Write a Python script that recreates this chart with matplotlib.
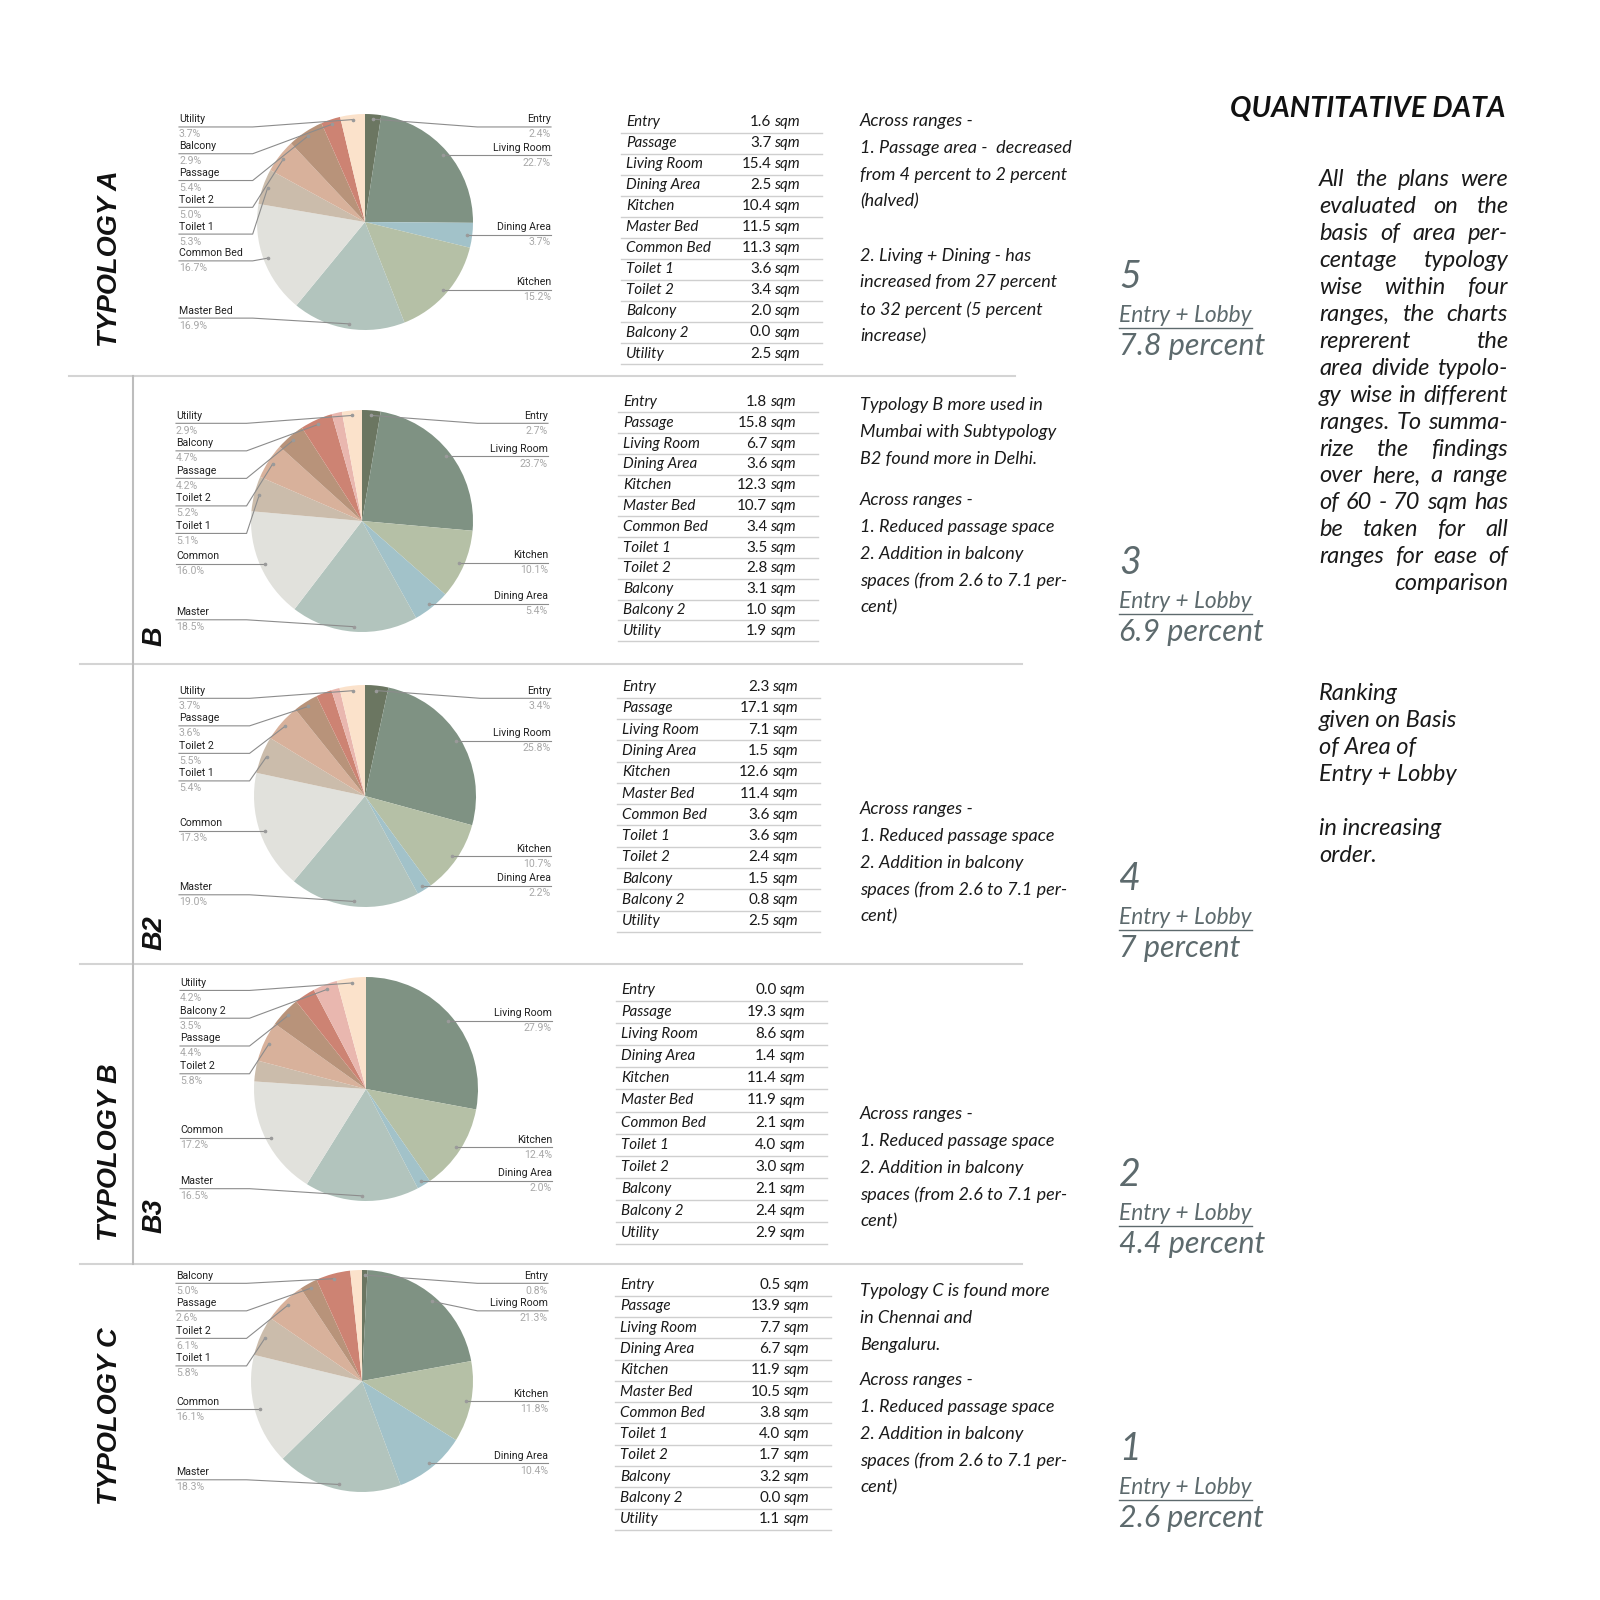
import matplotlib
matplotlib.use('Agg')
import matplotlib.pyplot as plt
import numpy as np

# ------------------------------------------------------------------ DATA
pie_A_rooms = ['Entry', 'Living Room', 'Dining Area', 'Kitchen', 'Master Bed', 'Common Bed',
               'Toilet 1', 'Toilet 2', 'Passage', 'Balcony', 'Utility']
pie_A_pct = [2.4, 22.7, 3.7, 15.2, 16.9, 16.7, 5.3, 5.0, 5.4, 2.9, 3.7]
pie_A_labels = ['Entry', 'Living Room', 'Dining Area', 'Kitchen', 'Master Bed', 'Common Bed',
                'Toilet 1', 'Toilet 2', 'Passage', 'Balcony', 'Utility']

pie_B_rooms = ['Entry', 'Living Room', 'Kitchen', 'Dining Area', 'Master Bed', 'Common Bed',
               'Toilet 1', 'Toilet 2', 'Passage', 'Balcony', 'Balcony 2', 'Utility']
pie_B_pct = [2.7, 23.7, 10.1, 5.4, 18.5, 16.0, 5.1, 5.2, 4.2, 4.7, 1.5, 2.9]
pie_B_labels = ['Entry', 'Living Room', 'Kitchen', 'Dining Area', 'Master', 'Common',
                'Toilet 1', 'Toilet 2', 'Passage', 'Balcony', None, 'Utility']

pie_B2_rooms = ['Entry', 'Living Room', 'Kitchen', 'Dining Area', 'Master Bed', 'Common Bed',
                'Toilet 1', 'Toilet 2', 'Passage', 'Balcony', 'Balcony 2', 'Utility']
pie_B2_pct = [3.4, 25.9, 10.7, 2.2, 19.0, 17.3, 5.4, 5.5, 3.6, 2.3, 1.2, 3.7]
pie_B2_labels = ['Entry', 'Living Room', 'Kitchen', 'Dining Area', 'Master', 'Common',
                 'Toilet 1', 'Toilet 2', 'Passage', None, None, 'Utility']

pie_B3_rooms = ['Living Room', 'Kitchen', 'Dining Area', 'Master Bed', 'Common Bed',
                'Toilet 1', 'Toilet 2', 'Passage', 'Balcony', 'Balcony 2', 'Utility']
pie_B3_pct = [27.9, 12.4, 2.0, 16.5, 17.2, 3.0, 5.8, 4.4, 3.0, 3.5, 4.2]
pie_B3_labels = ['Living Room', 'Kitchen', 'Dining Area', 'Master', 'Common',
                 None, 'Toilet 2', 'Passage', None, 'Balcony 2', 'Utility']

pie_C_rooms = ['Entry', 'Living Room', 'Kitchen', 'Dining Area', 'Master Bed', 'Common Bed',
               'Toilet 1', 'Toilet 2', 'Passage', 'Balcony', 'Utility']
pie_C_pct = [0.8, 21.3, 11.8, 10.4, 18.3, 16.1, 5.8, 6.1, 2.6, 5.0, 1.7]
pie_C_labels = ['Entry', 'Living Room', 'Kitchen', 'Dining Area', 'Master', 'Common',
                'Toilet 1', 'Toilet 2', 'Passage', 'Balcony', None]

table_rooms = ['Entry', 'Passage', 'Living Room', 'Dining Area', 'Kitchen', 'Master Bed',
               'Common Bed', 'Toilet 1', 'Toilet 2', 'Balcony', 'Balcony 2', 'Utility']
sqm_A = [1.6, 3.7, 15.4, 2.5, 10.4, 11.5, 11.3, 3.6, 3.4, 2.0, 0.0, 2.5]
sqm_B = [1.8, 15.8, 6.7, 3.6, 12.3, 10.7, 3.4, 3.5, 2.8, 3.1, 1.0, 1.9]
sqm_B2 = [2.3, 17.1, 7.1, 1.5, 12.6, 11.4, 3.6, 3.6, 2.4, 1.5, 0.8, 2.5]
sqm_B3 = [0.0, 19.3, 8.6, 1.4, 11.4, 11.9, 2.1, 4.0, 3.0, 2.1, 2.4, 2.9]
sqm_C = [0.5, 13.9, 7.7, 6.7, 11.9, 10.5, 3.8, 4.0, 1.7, 3.2, 0.0, 1.1]

rank_numbers = ['5', '3', '4', '2', '1']
entry_lobby_pct = ['7.8', '6.9', '7', '4.4', '2.6']

section_titles = ['TYPOLOGY A', 'B', 'B2', 'TYPOLOGY B', 'B3', 'TYPOLOGY C']

notes_A = [["Across ranges -", "1. Passage area -  decreased", "from 4 percent to 2 percent", "(halved)"],
           ["2. Living + Dining - has", "increased from 27 percent", "to 32 percent (5 percent", "increase)"]]
notes_B = [["Typology B more used in", "Mumbai with Subtypology", "B2 found more in Delhi."],
           ["Across ranges -", "1. Reduced passage space", "2. Addition in balcony",
            "spaces (from 2.6 to 7.1 per-", "cent)"]]
notes_B2 = [["Across ranges -", "1. Reduced passage space", "2. Addition in balcony",
             "spaces (from 2.6 to 7.1 per-", "cent)"]]
notes_B3 = [["Across ranges -", "1. Reduced passage space", "2. Addition in balcony",
             "spaces (from 2.6 to 7.1 per-", "cent)"]]
notes_C = [["Typology C is found more", "in Chennai and", "Bengaluru."],
           ["Across ranges -", "1. Reduced passage space", "2. Addition in balcony",
            "spaces (from 2.6 to 7.1 per-", "cent)"]]

summary_lines = ["All the plans were", "evaluated on the", "basis of area per-", "centage typology",
                 "wise within four", "ranges, the charts", "reprerent the", "area divide typolo-",
                 "gy wise in different", "ranges. To summa-", "rize the findings", "over here, a range",
                 "of 60 - 70 sqm has", "be taken for all", "ranges for ease of", "comparison"]
ranking_lines = ["Ranking", "given on Basis", "of Area of", "Entry + Lobby", "", "in increasing", "order."]

room_colors = {'Entry': '#6b7661', 'Living Room': '#7f9283', 'Dining Area': '#a2c2c9',
               'Kitchen': '#b5c0a6', 'Master Bed': '#b2c4bd', 'Common Bed': '#e1e1dc',
               'Toilet 1': '#cbbcab', 'Toilet 2': '#d8b19b', 'Passage': '#b8937a',
               'Balcony': '#cd8373', 'Balcony 2': '#e9b7af', 'Utility': '#fbe2cb'}

# ------------------------------------------------------------------ LAYOUT
W = H = 1600
fig = plt.figure(figsize=(16, 16), dpi=100)
fig.patch.set_facecolor('white')
ov = fig.add_axes([0, 0, 1, 1], zorder=5)
ov.set_xlim(0, W)
ov.set_ylim(H, 0)
ov.axis('off')
ov.patch.set_alpha(0)
renderer = fig.canvas.get_renderer()

LBL = ['Roboto', 'DejaVu Sans']
BODY = ['Lato', 'DejaVu Sans']
NARROW = ['Liberation Sans Narrow', 'Liberation Sans', 'DejaVu Sans']

pies = [
    (pie_A_rooms, pie_A_pct, pie_A_labels, 365, 222, 108),
    (pie_B_rooms, pie_B_pct, pie_B_labels, 362, 521, 111),
    (pie_B2_rooms, pie_B2_pct, pie_B2_labels, 365, 796, 111),
    (pie_B3_rooms, pie_B3_pct, pie_B3_labels, 366, 1089, 112),
    (pie_C_rooms, pie_C_pct, pie_C_labels, 362, 1381, 111),
]


def spread(ys, lo, hi, sp):
    ys = list(ys)
    n = len(ys)
    for i in range(n):
        ys[i] = max(ys[i], lo if i == 0 else ys[i - 1] + sp)
    for i in range(n - 1, -1, -1):
        ys[i] = min(ys[i], hi if i == n - 1 else ys[i + 1] - sp)
    return ys


for rooms, pct, labels, cx, cy, R in pies:
    axp = fig.add_axes([(cx - R) / W, 1 - (cy + R) / H, 2 * R / W, 2 * R / H], zorder=1)
    wedges, _ = axp.pie(pct, colors=[room_colors[r] for r in rooms], startangle=90,
                        counterclock=False, wedgeprops=dict(linewidth=0))
    axp.set_xlim(-1, 1)
    axp.set_ylim(-1, 1)
    axp.set_aspect('auto')
    total = sum(pct)
    left, right = [], []
    for w, lab, v in zip(wedges, labels, pct):
        if lab is None:
            continue
        mid = np.deg2rad((w.theta1 + w.theta2) / 2)
        ax_ = cx + 0.955 * R * np.cos(mid)
        ay_ = cy - 0.955 * R * np.sin(mid)
        item = (ay_, ax_, lab, 100 * v / total)
        (right if ax_ >= cx else left).append(item)
    sp = 0.248 * R
    for side, items in (('L', left), ('R', right)):
        items.sort(key=lambda t: t[0])
        ys = spread([t[0] for t in items], cy - 0.88 * R, cy + 0.89 * R, sp)
        for (ay_, ax_, lab, p), ly in zip(items, ys):
            if side == 'L':
                lx, kx, ha = cx - 186, cx - 1.04 * R, 'left'
            else:
                lx, kx, ha = cx + 186, cx + 1.04 * R, 'right'
            ov.plot([lx, kx, ax_], [ly, ly, ay_], color='#8c8c8c', lw=0.8, zorder=6)
            ov.plot([ax_], [ay_], 'o', ms=1.6, color='#9a9a9a', zorder=7)
            ov.text(lx, ly - 7.5, lab, ha=ha, va='center', fontsize=7.6, family=LBL, color='#222222')
            ov.text(lx, ly + 7.5, f"{p:.1f}%", ha=ha, va='center', fontsize=7.6, family=LBL,
                    color='#a8a8a8')

# ---- tables
TFS = 10.9
tables = [(sqm_A, 626, 800, 122, 21.05), (sqm_B, 623, 796, 402, 20.8),
          (sqm_B2, 622, 798, 687, 21.3), (sqm_B3, 621, 805, 990, 22.1),
          (sqm_C, 620, 809, 1285, 21.3)]
probe = ov.text(0, 0, 'sqm', fontsize=TFS, family=BODY, style='italic')
sqm_w = probe.get_window_extent(renderer).width
probe.remove()
for vals, nx, vr, y0, dy in tables:
    for i, (room, v) in enumerate(zip(table_rooms, vals)):
        y = y0 + i * dy
        ov.text(nx, y, room, ha='left', va='center', fontsize=TFS, family=BODY, style='italic',
                color='#1a1a1a')
        ov.text(vr, y, 'sqm', ha='right', va='center', fontsize=TFS, family=BODY, style='italic',
                color='#1a1a1a')
        ov.text(vr - sqm_w - 3, y, f"{v:.1f}", ha='right', va='center', fontsize=TFS, family=BODY,
                color='#1a1a1a')
        ov.plot([nx - 5, vr + 22], [y + dy / 2, y + dy / 2], color='#cfcfcf', lw=1.0)

# ---- notes
notes = [(notes_A, [121, 255.5]), (notes_B, [405, 500]), (notes_B2, [809]),
         (notes_B3, [1114]), (notes_C, [1291, 1380])]
for paras, starts in notes:
    for lines, y0 in zip(paras, starts):
        for i, ln in enumerate(lines):
            ov.text(860, y0 + i * 26.9, ln, ha='left', va='center', fontsize=13, family=BODY,
                    style='italic', color='#1a1a1a')

# ---- separators
ov.plot([69, 1015], [376, 376], color='#d4d4d4', lw=1.5)
for y in (664, 964, 1264):
    ov.plot([80, 1022], [y, y], color='#d4d4d4', lw=1.5)
ov.plot([133, 133], [376, 1264], color='#bdbdbd', lw=1.5)

# ---- section titles (vertical)
title_pos = [(110, 259), (155, 636), (155, 933), (110, 1152), (155, 1216), (110, 1416)]
for t, (x, y) in zip(section_titles, title_pos):
    ov.text(x, y, t, rotation=90, ha='center', va='center', fontsize=19.5, family=NARROW,
            weight='bold', style='italic', color='#111111')

# ---- header
ov.text(1505, 109, 'QUANTITATIVE DATA', ha='right', va='center', fontsize=20.5, family=BODY,
        weight='bold', style='italic', color='#111111')

# ---- ranking column
RC = '#5d6a6d'
rank_y = [277, 563, 879, 1175, 1449]
for num, p, y in zip(rank_numbers, entry_lobby_pct, rank_y):
    ov.text(1119, y, num, ha='left', va='center', fontsize=27, family=BODY, style='italic', color=RC)
    yy = y + 39
    t = ov.text(1119, yy, 'Entry + Lobby', ha='left', va='center', fontsize=16.4, family=BODY,
                style='italic', color=RC)
    wdt = t.get_window_extent(renderer).width
    ov.plot([1119, 1119 + wdt], [yy + 12, yy + 12], color=RC, lw=1.0)
    ov.text(1119, yy + 30, f"{p} percent", ha='left', va='center', fontsize=22, family=BODY,
            style='italic', color=RC)


# ---- justified summary paragraph
SFS = 17


def justified(lines, x0, x1, y0, dy, fs):
    for i, ln in enumerate(lines):
        y = y0 + i * dy
        if i == len(lines) - 1:
            ov.text(x1, y, ln, ha='right', va='center', fontsize=fs, family=BODY, style='italic',
                    color='#1a1a1a')
            continue
        words = ln.split()
        ts = [ov.text(0, y, w, ha='left', va='center', fontsize=fs, family=BODY, style='italic',
                      color='#1a1a1a') for w in words]
        ws = [t.get_window_extent(renderer).width for t in ts]
        gap = (x1 - x0 - sum(ws)) / max(len(ws) - 1, 1)
        x = x0
        for t, w in zip(ts, ws):
            t.set_x(x)
            x += w + gap


justified(summary_lines, 1319, 1508, 180, 26.9, SFS)
for i, ln in enumerate(ranking_lines):
    ov.text(1319, 694 + i * 26.9, ln, ha='left', va='center', fontsize=SFS, family=BODY,
            style='italic', color='#1a1a1a')

fig.savefig('out.png', dpi=100, facecolor='white')
